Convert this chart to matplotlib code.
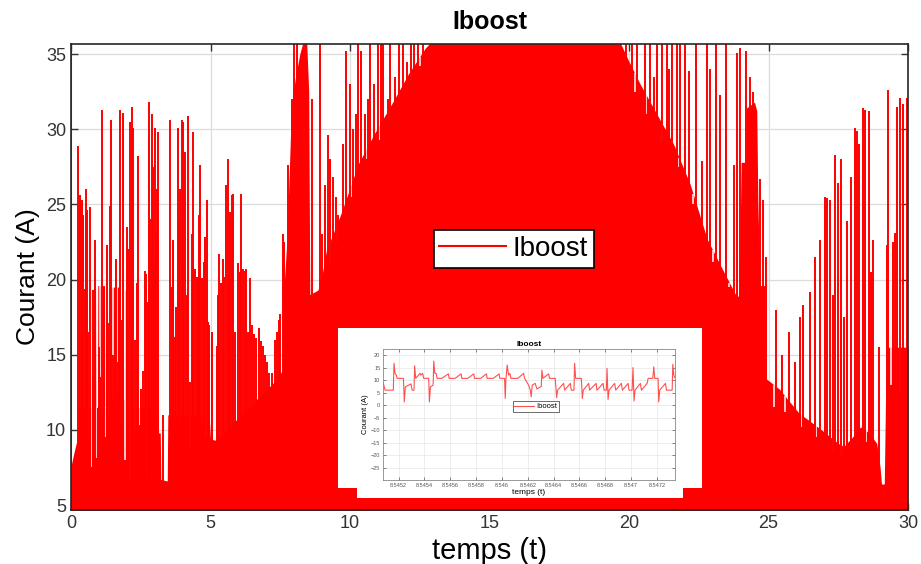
import numpy as np
import matplotlib
matplotlib.use("Agg")
import matplotlib.pyplot as plt
from matplotlib.patches import Rectangle

plt.rcParams['font.family'] = ['Liberation Sans', 'DejaVu Sans']

# ---------------- main signal (dense switching current) ----------------
# solid envelope of the densely filled region
base_t = [0.0, 0.12, 0.2, 0.24, 0.26, 0.71, 0.72, 0.88, 0.89, 0.95, 0.96, 1.20, 1.21,
          1.41, 1.42, 1.75, 1.76, 1.84, 1.85, 2.00, 2.01, 3.10, 3.14, 3.20, 3.22, 3.45,
          3.47, 4.95, 5.0, 5.2, 6.0, 6.8, 7.4, 7.58, 7.62, 7.75, 7.9, 8.05, 8.2, 8.3,
          8.45, 8.52, 8.56, 8.85, 9.0, 9.15, 9.7, 10.3, 10.87, 11.5, 12.1, 12.7, 12.85,
          19.7, 20.0, 20.4, 21.0, 21.6, 22.2, 22.8, 23.4, 23.85, 23.95, 24.02, 24.18,
          24.2, 24.5, 24.58, 24.62, 24.7, 24.87, 24.92, 25.4, 25.7, 26.1, 26.4, 26.9,
          27.5, 27.7, 28.0, 28.3, 28.6, 28.88, 29.0, 29.05, 29.15, 29.22, 30.0]
base_top = [7.6, 8.6, 9.2, 9.2, 11.5, 11.5, 19.4, 19.4, 11.5, 11.5, 19.6, 19.6, 11.5,
            11.5, 19.5, 19.5, 11.5, 11.5, 19.3, 19.3, 11.5, 11.5, 9.8, 9.8, 6.7, 6.6,
            11.0, 11.0, 9.4, 9.3, 10.8, 12.3, 13.4, 14.0, 19.0, 23.0, 31.5, 33.5, 35.0, 35.7,
            35.7, 32.5, 19.0, 19.3, 20.3, 21.9, 24.5, 27.7, 29.7, 31.7, 33.7, 35.4, 35.7,
            35.7, 34.5, 33.0, 31.0, 29.0, 26.3, 22.7, 20.5, 18.9, 18.9, 27.8, 27.8,
            31.4, 31.8, 31.2, 25.0, 19.6, 19.6, 13.4, 12.7, 12.0, 11.1, 10.7, 10.0,
            9.1, 8.9, 9.5, 10.2, 9.8, 9.1, 7.5, 6.4, 6.4, 15.5, 15.5]

# white gaps cutting down into the dense region
gap_t = [0.62, 0.74, 0.80, 0.90, 1.04, 1.12, 1.22, 1.35, 1.50, 1.60, 1.66, 1.82, 1.90,
         1.94, 2.12, 2.30, 2.47, 2.68, 2.95, 3.7, 3.9, 4.27, 4.69, 4.85,
         9.3, 9.55, 10.05, 10.6, 11.05, 11.4, 11.75, 12.2, 12.5,
         20.2, 20.6, 21.2, 21.8, 22.3, 22.6, 23.0, 23.6,
         25.2, 25.6, 26.2, 26.7, 27.3, 27.6, 28.5, 29.4, 29.7]
gap_bot = [9.7, 7.5, 12.5, 8.1, 13.5, 11.0, 9.5, 11.0, 12.0, 11.5, 13.0, 10.4, 12.0,
           8.0, 6.8, 10.0, 10.3, 6.8, 11.0, 10.6, 10.5, 8.7, 10.5, 9.5,
           21.0, 22.5, 25.5, 28.0, 29.3, 30.5, 32.0, 33.2, 34.2,
           32.5, 31.0, 29.2, 27.5, 25.0, 23.5, 21.2, 19.5,
           11.5, 11.2, 10.2, 9.5, 8.5, 8.3, 9.2, 13.0, 12.5]

# isolated current spikes (time, peak)
spike_t = [0.01, 0.26, 0.32, 0.38, 0.40, 0.44, 0.50, 0.53, 0.56, 0.62, 0.68, 0.78, 0.80,
           0.87, 1.00, 1.10, 1.20, 1.28, 1.30, 1.34, 1.40, 1.45, 1.52, 1.58, 1.63, 1.68,
           1.75, 1.82, 1.87, 1.99, 2.05, 2.11, 2.17, 2.20, 2.23, 2.28, 2.35, 2.41, 2.50,
           2.59, 2.65, 2.70, 2.77, 2.80, 2.84, 2.89, 2.92, 2.95, 2.98, 3.01, 3.05, 3.07,
           3.13, 3.30, 3.55, 3.61, 3.65, 3.67, 3.73, 3.78, 3.85, 3.88, 3.92, 3.97, 4.00,
           4.03, 4.10, 4.15, 4.21, 4.27, 4.33, 4.38, 4.39, 4.44, 4.50, 4.55, 4.57, 4.63,
           4.69, 4.75, 4.81, 4.87, 4.90, 4.93, 5.04, 5.07, 5.22, 5.26, 5.32, 5.38, 5.45,
           5.50, 5.56, 5.62, 5.66, 5.70, 5.76, 5.82, 5.88, 6.00, 6.05, 6.10, 6.16, 6.24,
           6.28, 6.35, 6.40, 6.47, 6.55, 6.63, 6.75, 6.80, 6.89, 6.95, 7.01, 7.10, 7.19,
           7.30, 7.37, 7.45, 7.49, 7.60, 7.63, 7.78, 7.92, 7.98, 8.10, 8.65, 8.93, 9.00,
           9.10, 9.20, 9.30, 9.40, 9.50, 9.58, 9.75, 9.85, 10.00, 10.10, 10.20, 10.30,
           10.40, 10.55, 10.65, 10.70, 10.85, 10.99, 11.10, 11.20, 11.35, 11.45, 11.60,
           11.75, 11.90, 12.05, 12.20, 12.30, 12.45, 12.60,
           19.90, 20.10, 20.30, 20.57, 20.75, 20.90, 20.99, 21.17, 21.35, 21.45, 21.53,
           21.71, 21.83, 22.00, 22.16, 22.40, 22.60, 22.80, 22.90, 23.12, 23.26, 23.47,
           23.78, 23.86, 23.98, 24.20, 24.35, 24.45, 24.70, 24.80, 24.90, 25.28, 25.50,
           25.75, 25.95, 26.13, 26.25, 26.50, 26.67, 26.85, 27.03, 27.10, 27.20, 27.30,
           27.40, 27.50, 27.60, 27.70, 27.80, 27.95, 28.10, 28.16, 28.26, 28.38, 28.46,
           28.60, 28.68, 28.76, 28.95, 29.24, 29.30, 29.45, 29.53, 29.60, 29.70, 29.83,
           29.95, 29.99]
spike_top = [35.7, 28.9, 25.6, 16.5, 25.3, 24.3, 19.4, 26.0, 24.6, 16.5, 24.8, 13.5, 19.3,
             22.6, 15.5, 31.3, 17.0, 22.3, 16.1, 17.1, 24.9, 30.6, 15.0, 18.0, 21.4, 14.5,
             31.3, 17.3, 31.1, 23.5, 22.0, 30.5, 31.5, 16.5, 30.1, 16.0, 19.8, 28.2, 12.7,
             13.9, 20.6, 20.4, 18.5, 31.8, 24.0, 31.0, 22.0, 27.5, 21.0, 30.1, 23.0, 26.0,
             29.8, 11.0, 30.6, 19.5, 22.6, 22.3, 16.2, 18.2, 30.1, 24.0, 26.0, 30.6, 20.8,
             30.5, 28.5, 19.0, 30.9, 13.2, 23.0, 22.0, 29.8, 20.7, 20.2, 20.2, 24.3, 27.6,
             20.1, 21.2, 22.8, 25.3, 17.2, 17.0, 16.5, 16.1, 15.6, 19.0, 21.7, 19.8, 21.4,
             20.2, 26.3, 28.0, 20.4, 24.5, 25.6, 25.7, 16.5, 21.1, 20.5, 25.7, 20.7, 20.6,
             20.7, 16.5, 20.1, 17.0, 16.4, 16.1, 16.8, 15.9, 15.6, 15.0, 14.5, 13.8, 13.8,
             16.0, 16.5, 17.3, 17.7, 23.0, 22.5, 27.6, 32.0, 35.7, 35.7, 32.0, 35.7, 23.0,
             26.3, 29.6, 28.0, 26.8, 25.5, 24.3, 29.0, 35.2, 33.0, 30.0, 31.0, 35.7,
             35.2, 31.0, 32.0, 35.7, 33.0, 35.7, 35.7, 35.7, 32.0, 35.7, 33.5,
             35.7, 35.7, 34.5, 35.7, 35.7, 35.7, 35.7,
             35.7, 35.7, 35.7, 35.7, 35.7, 33.5, 35.7, 35.7, 35.7, 34.0, 35.7,
             35.7, 35.7, 35.7, 33.9, 35.7, 27.9, 35.7, 34.0, 35.7, 32.3, 35.7,
             27.6, 35.1, 35.4, 35.2, 33.5, 32.5, 26.7, 25.3, 21.5, 18.0, 15.0,
             16.5, 14.5, 17.5, 18.3, 19.2, 21.5, 22.6, 25.5, 25.4, 25.3, 19.0,
             28.3, 26.4, 28.0, 17.5, 23.9, 26.8, 30.1, 29.9, 29.0, 31.4, 31.3,
             31.2, 20.5, 22.6, 15.5, 22.3, 32.6, 22.5, 23.1, 31.5, 32.1, 31.7,
             32.1, 22.2]

x_ticks = [0, 5, 10, 15, 20, 25, 30]
y_ticks = [5, 10, 15, 20, 25, 30, 35]

# ---------------- inset (zoom on switching waveform) ----------------
inset_t = [8.545083, 8.545096, 8.545160, 8.545165, 8.545173, 8.545183, 8.545189,
           8.545238, 8.545245, 8.545253, 8.545297, 8.545305, 8.545320, 8.545325,
           8.545333, 8.545367, 8.545372, 8.545387, 8.545395, 8.545434, 8.545439,
           8.545447, 8.545468, 8.545473, 8.545481, 8.545491, 8.545499, 8.545535,
           8.545586, 8.545592, 8.545638, 8.545685, 8.545690, 8.545736, 8.545783,
           8.545788, 8.545835, 8.545881, 8.545886, 8.545933, 8.545979, 8.545984,
           8.546021, 8.546026, 8.546031, 8.546041, 8.546052, 8.546062, 8.546070,
           8.546124, 8.546168, 8.546176, 8.546207, 8.546220, 8.546227, 8.546235,
           8.546258, 8.546271, 8.546305, 8.546310, 8.546318, 8.546362, 8.546369,
           8.546413, 8.546424, 8.546431, 8.546478, 8.546486, 8.546530, 8.546537,
           8.546558, 8.546563, 8.546571, 8.546615, 8.546623, 8.546630, 8.546672,
           8.546679, 8.546729, 8.546736, 8.546783, 8.546791, 8.546809, 8.546814,
           8.546822, 8.546829, 8.546873, 8.546881, 8.546925, 8.546933, 8.546977,
           8.546984, 8.547008, 8.547015, 8.547023, 8.547031, 8.547072, 8.547080,
           8.547124, 8.547132, 8.547168, 8.547176, 8.547183, 8.547209, 8.547214,
           8.547222, 8.547266, 8.547274, 8.547318, 8.547323, 8.547331, 8.547338]
inset_val = [8.7, 6.0, 6.0, 16.7, 12.7, 12.0, 10.7,
             10.7, 1.3, 7.3, 8.5, 6.0, 6.0, 15.7,
             10.7, 12.7, 12.0, 12.7, 10.7, 10.7, 1.3,
             7.3, 8.0, 17.6, 12.7, 12.7, 10.7, 10.7,
             12.5, 10.7, 10.7, 12.5, 10.7, 10.7, 12.5,
             10.7, 10.7, 12.5, 10.7, 10.7, 12.5, 10.7,
             10.7, 2.7, 10.0, 16.0, 12.0, 12.7, 10.7,
             10.7, 12.7, 10.7, 8.0, 6.0, 3.3, 8.0,
             8.7, 6.5, 7.5, 14.0, 10.7, 12.5, 10.7,
             10.7, 3.0, 6.0, 8.7, 6.0, 8.7, 6.0,
             6.0, 16.7, 10.7, 10.7, 2.7, 6.0, 8.7,
             6.0, 8.7, 6.0, 8.7, 6.0, 6.0, 14.7,
             2.3, 6.0, 8.7, 6.0, 8.7, 6.0, 8.7,
             6.0, 6.0, 15.0, 1.7, 6.0, 8.7, 6.0,
             8.7, 10.7, 10.7, 15.3, 10.7, 10.7, 1.3,
             6.0, 8.7, 6.0, 6.0, 16.3, 12.0, 11.0]
inset_xticks = [8.5452, 8.5454, 8.5456, 8.5458, 8.546, 8.5462, 8.5464, 8.5466, 8.5468,
                8.547, 8.5472]
inset_xlabels = ['8.5452', '8.5454', '8.5456', '8.5458', '8.546', '8.5462', '8.5464',
                 '8.5466', '8.5468', '8.547', '8.5472']
inset_yticks = [-25, -20, -15, -10, -5, 0, 5, 10, 15, 20]

# ---------------- figure ----------------
W, H = 921, 564
fig = plt.figure(figsize=(W / 100, H / 100), dpi=100)
ax = fig.add_axes([71 / W, 1 - 510 / H, (908 - 71) / W, (510 - 44) / H])

dark = '#262626'
ax.set_axisbelow(True)
ax.grid(True, color='#dcdcdc', lw=0.9)

ax.fill_between(base_t, 0, base_top, color='red', lw=0, zorder=2)
gap_tops = np.interp(gap_t, base_t, base_top)
ax.vlines(gap_t, gap_bot, gap_tops, color='white', lw=1.1, zorder=2.5)
ax.vlines(spike_t, 0, spike_top, color='red', lw=1.4, zorder=3)
line_proxy, = ax.plot([], [], color='red', lw=1.5, label='Iboost')

ax.set_xlim(0, 30)
ax.set_ylim(4.67, 35.67)
ax.set_xticks(x_ticks)
ax.set_yticks(y_ticks)
ax.tick_params(direction='in', top=True, right=True, labelsize=13, colors='#333333',
               length=5, width=1)
for s in ax.spines.values():
    s.set_color(dark)
    s.set_linewidth(1.2)
    s.set_zorder(4)
ax.set_title('Iboost', fontsize=18, fontweight='bold', pad=11)
ax.set_xlabel('temps (t)', fontsize=21, labelpad=4)
ax.set_ylabel('Courant (A)', fontsize=19, labelpad=4)
leg = ax.legend(handles=[line_proxy], loc='center', bbox_to_anchor=(0.529, 0.56),
                fontsize=20, frameon=True, fancybox=False, borderpad=0.2,
                handlelength=2.4, handletextpad=0.25, framealpha=1, borderaxespad=0)
leg.get_frame().set_edgecolor('black')
leg.get_frame().set_facecolor('white')
leg.get_frame().set_linewidth(1.2)
leg.set_zorder(6)

# white background of pasted inset picture
fig.add_artist(Rectangle((338 / W, 1 - 488 / H), (702 - 338) / W, (488 - 328) / H,
                         transform=fig.transFigure, color='white', zorder=3, lw=0))
fig.add_artist(Rectangle((357 / W, 1 - 498 / H), (683 - 357) / W, 12 / H,
                         transform=fig.transFigure, color='white', zorder=3, lw=0))

ins = fig.add_axes([383 / W, 1 - 480 / H, (675 - 383) / W, (480 - 349) / H])
ins.set_zorder(5)
ins.set_axisbelow(True)
ins.grid(True, color='#e6e6e6', lw=0.5)
ins.plot(inset_t, inset_val, color='#ff5050', lw=0.8, label='Iboost')
ins.set_xlim(8.54508, 8.54734)
ins.set_ylim(-29.8, 22.4)
ins.set_xticks(inset_xticks)
ins.set_xticklabels(inset_xlabels)
ins.set_yticks(inset_yticks)
ins.tick_params(direction='in', top=True, right=True, labelsize=4, colors='#555555',
                length=2, width=0.5, pad=2)
for s in ins.spines.values():
    s.set_color('#888888')
    s.set_linewidth(0.6)
ins.set_title('Iboost', fontsize=6, fontweight='bold', pad=2)
ins.set_xlabel('temps (t)', fontsize=6, labelpad=1)
ins.set_ylabel('Courant (A)', fontsize=5.5, labelpad=1)
il = ins.legend(loc='center', bbox_to_anchor=(0.524, 0.56), fontsize=5.5, fancybox=False,
                borderpad=0.2, handlelength=2.6, handletextpad=0.3, framealpha=1)
il.get_frame().set_edgecolor('#555555')
il.get_frame().set_linewidth(0.6)

fig.savefig('out.png', dpi=100)
